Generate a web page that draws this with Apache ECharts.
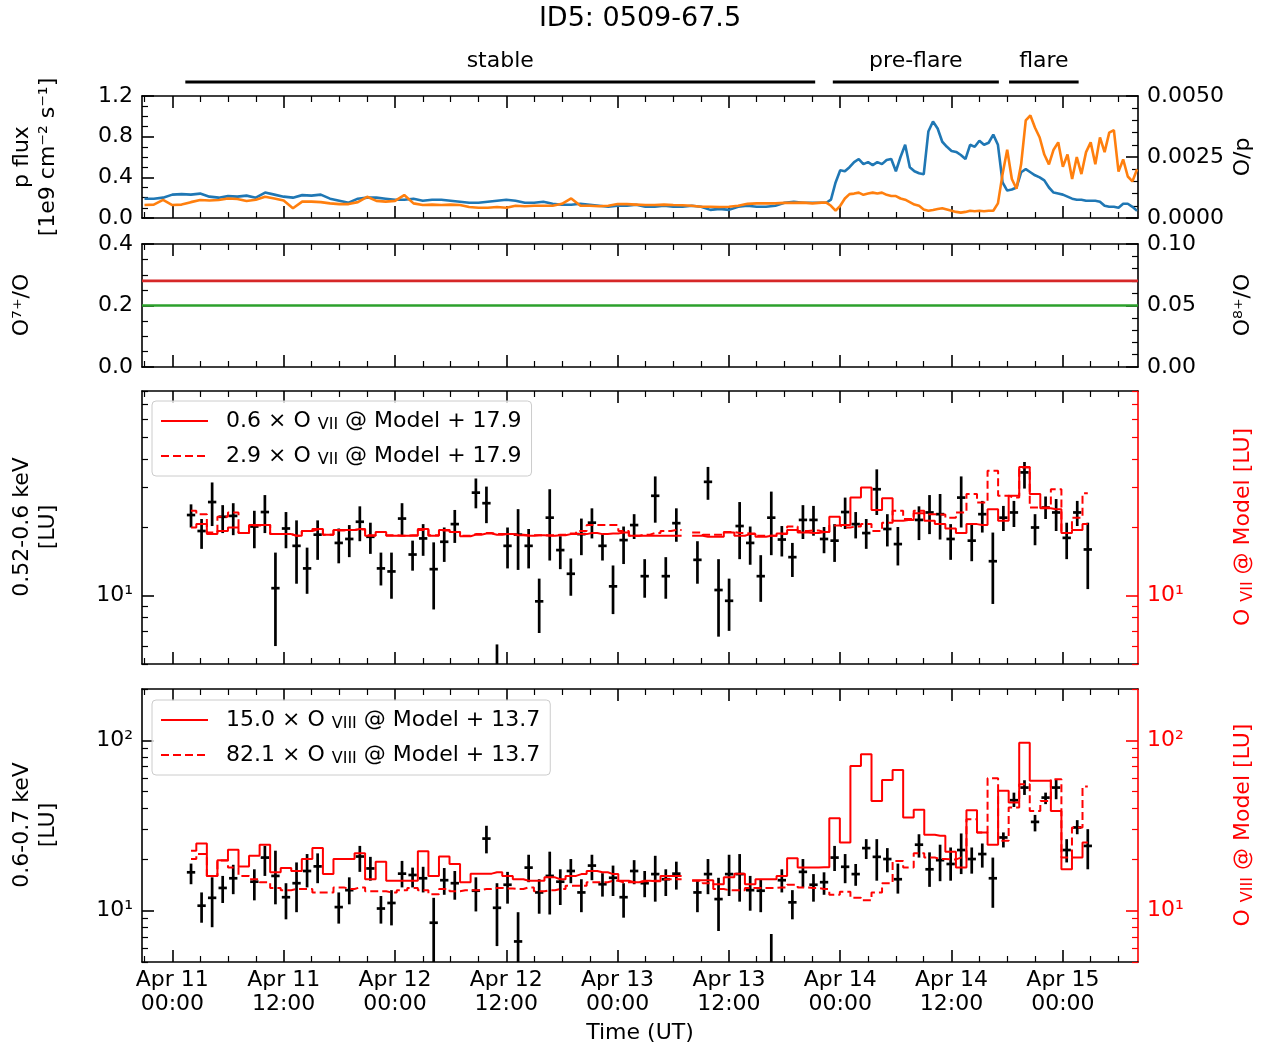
<!DOCTYPE html>
<html>
<head>
<meta charset="utf-8">
<title>ID5: 0509-67.5</title>
<script src="https://cdn.jsdelivr.net/npm/echarts@6/dist/echarts.min.js"></script>
<style>
html, body { margin: 0; padding: 0; background: #ffffff; }
#chart { width: 1269px; height: 1048px; }
</style>
</head>
<body>
<div id="chart"></div>
<script>
// time is hours since Apr 11 00:00 UT
var X0 = -3.27;
var X1 = 104.1;
var majorHours = [0, 12, 24, 36, 48, 60, 72, 84, 96];

/* proton flux and O/p: hourly from -3h to 69h, then every half hour up to 104h */
var pFlux = [0.19, 0.19, 0.20, 0.23,
    0.235, 0.23, 0.24, 0.21, 0.20, 0.215, 0.21, 0.22, 0.20, 0.25,
    0.23, 0.21, 0.20, 0.225, 0.22, 0.23, 0.19, 0.17, 0.15, 0.19,
    0.20, 0.20, 0.19, 0.18, 0.18, 0.19, 0.17, 0.18, 0.18, 0.17,
    0.16, 0.15, 0.15, 0.16, 0.17, 0.18, 0.17, 0.15, 0.15, 0.16,
    0.14, 0.13, 0.13, 0.14, 0.13, 0.12, 0.11, 0.12, 0.12, 0.13,
    0.11, 0.11, 0.12, 0.11, 0.11, 0.12, 0.11, 0.08, 0.09, 0.08,
    0.11, 0.12, 0.11, 0.11, 0.12, 0.15, 0.16, 0.15, 0.15,
    // half-hourly from 70h
    0.15, 0.15, 0.18, 0.35, 0.47, 0.46, 0.50, 0.55, 0.58, 0.53,
    0.55, 0.52, 0.55, 0.53, 0.57, 0.58, 0.46, 0.60, 0.72, 0.50,
    0.46, 0.44, 0.43, 0.85, 0.95, 0.88, 0.75, 0.70, 0.66, 0.65,
    0.62, 0.58, 0.72, 0.70, 0.76, 0.72, 0.74, 0.82, 0.72, 0.35,
    0.27, 0.28, 0.30, 0.45, 0.48, 0.45, 0.42, 0.40, 0.37, 0.30,
    0.25, 0.24, 0.23, 0.21, 0.19, 0.18, 0.18, 0.17, 0.17, 0.17,
    0.16, 0.12, 0.11, 0.11, 0.10, 0.14, 0.14, 0.11, 0.07];
var oRatio = [0.00053, 0.00055, 0.00074, 0.00053,
    0.00055, 0.00065, 0.00074, 0.00072, 0.00074, 0.0008, 0.00078, 0.0007, 0.00075, 0.00087,
    0.0008, 0.00072, 0.0004, 0.00067, 0.00067, 0.00065, 0.0006, 0.00057, 0.00057, 0.00065,
    0.00087, 0.0007, 0.00067, 0.0007, 0.00094, 0.0006, 0.00053, 0.00055, 0.00053, 0.00055,
    0.00053, 0.00045, 0.00042, 0.00042, 0.00045, 0.00042, 0.0005, 0.00048, 0.0005, 0.0005,
    0.0005, 0.00058, 0.0008, 0.0005, 0.0005, 0.00048, 0.0005, 0.00057, 0.00057, 0.00055,
    0.00053, 0.00053, 0.00055, 0.00053, 0.00052, 0.0005, 0.00046, 0.00046, 0.00045, 0.00046,
    0.0005, 0.00058, 0.0006, 0.0006, 0.0006, 0.00062, 0.00062, 0.00063, 0.0006,
    // half-hourly from 70h
    0.00063, 0.00063, 0.0005, 0.0003, 0.0005, 0.0008, 0.00098, 0.001, 0.00104, 0.00095,
    0.001, 0.00104, 0.001, 0.00104, 0.00095, 0.0009, 0.0009, 0.0008, 0.00075, 0.00065,
    0.00055, 0.0005, 0.00035, 0.0003, 0.00033, 0.00037, 0.0004, 0.00035, 0.0003, 0.00025,
    0.00022, 0.00025, 0.0003, 0.00028, 0.0003, 0.00028, 0.0003, 0.0003, 0.0006, 0.0018,
    0.0028, 0.0016, 0.0012, 0.0022, 0.0040, 0.0042, 0.0037, 0.0033, 0.0026, 0.0022,
    0.0028, 0.0031, 0.0021, 0.0026, 0.0016, 0.0025, 0.0018, 0.0027, 0.0031, 0.0022,
    0.0033, 0.0027, 0.0035, 0.0036, 0.0019, 0.0024, 0.0017, 0.0015, 0.0020];

/* charge state ratios */
var ratioTimes = [X0, X1];
var o7Ratio = [0.2, 0.2];
var o8Ratio = [0.07, 0.07];

/* phases */
var phaseNames = ['stable', 'pre-flare', 'flare'];
var phaseStart = [1.4, 71.2, 90.2];
var phaseEnd = [69.3, 89.1, 97.7];

/* light curve bins */
var binStart = 2.016;
var binStep = 1.1373;
var xHalf = 0.45;

var obs7 = [22.7, 19.3, 25.9, 22.3, 22.5, null, 20.2, 23.4, 10.8, 19.8,
    16.6, 13.2, 18.6, null, 17.1, 17.8, 21.2, 18.2, 13.2, 12.8,
    21.9, 15.2, 17.9, 13.1, 17.3, 20.7, null, 28.5, 25.6, 4.0,
    16.6, 18.6, 16.6, 9.45, 22.1, 15.9, 12.5, 18.7, 21.0, 16.6,
    11.0, 17.6, 20.5, 12.2, 27.6, 12.2, 20.9, null, 14.4, 31.8,
    10.6, 9.5, 20.3, 17.1, 12.2, 22.1, 17.7, 14.8, 21.6, 21.6,
    17.8, 17.5, 23.4, 20.7, 18.9, 29.5, 19.7, 16.9, null, 21.6,
    23.3, 22.9, 17.8, 27.1, 17.5, 22.9, 14.2, 22.1, 23.3, 35.0,
    20.0, 24.5, 23.3, 18.0, 23.3, 16.0];
var lo7 = [20.0, 16.1, 20.3, 18.9, 18.5, null, 16.2, 18.9, 6.0, 16.2,
    11.3, 10.2, 14.4, null, 13.9, 14.8, 17.4, 15.3, 11.1, 9.7,
    18.4, 12.9, 15.0, 8.7, 14.1, 17.1, null, 24.3, 20.9, 2.5,
    13.2, 13.0, 13.2, 6.85, 14.3, 13.1, 10.0, 15.1, 17.9, 14.3,
    8.3, 13.8, 17.8, 9.8, 21.0, 9.7, 17.3, null, 11.3, 26.5,
    6.6, 7.0, 14.5, 13.7, 9.4, 15.1, 14.9, 12.1, 17.8, 18.4,
    15.4, 14.1, 19.7, 17.9, 16.1, 22.7, 16.5, 13.6, null, 17.6,
    18.7, 17.7, 14.4, 20.0, 14.2, 19.0, 9.2, 19.3, 20.1, 29.7,
    16.7, 21.8, 19.3, 14.5, 20.3, 10.7];
var hi7 = [25.3, 21.8, 31.6, 25.1, 25.6, null, 23.7, 27.8, 15.5, 23.4,
    21.5, 16.3, 21.5, null, 19.8, 20.5, 24.8, 21.0, 15.5, 15.5,
    25.6, 17.5, 20.7, 17.2, 20.0, 23.9, null, 32.9, 30.3, 6.1,
    20.0, 24.1, 19.7, 11.9, 29.5, 18.3, 14.6, 21.9, 24.3, 18.7,
    13.6, 20.2, 22.9, 14.5, 33.6, 14.8, 24.3, null, 17.4, 37.0,
    14.5, 11.9, 25.9, 20.2, 15.1, 28.8, 20.3, 17.1, 25.1, 24.9,
    20.1, 20.7, 27.1, 23.4, 21.8, 36.1, 22.9, 20.1, null, 24.8,
    27.8, 28.1, 20.7, 33.6, 20.6, 26.2, 19.0, 24.9, 26.2, 38.9,
    22.9, 27.4, 26.7, 21.0, 26.2, 21.0];
var m7Solid = [20.0, 20.7, 18.7, 19.3, 20.0, 18.9, 20.5, 20.5, 18.7, 18.7,
    18.4, 19.3, 19.7, 18.6, 19.5, 19.5, 19.7, 18.4, 19.1, 18.4,
    18.4, 18.4, 19.7, 18.4, 19.5, 19.1, 18.3, 18.6, 18.8, 18.6,
    18.7, 18.5, 18.4, 18.5, 18.4, 18.5, 18.7, 18.7, 18.9, 18.7,
    18.8, 19.0, 18.4, 18.4, 18.4, 18.4, 18.4, null, 18.4, 18.2,
    18.2, 19.0, 18.4, 18.7, 18.2, 18.4, 18.8, 19.5, 19.0, 18.9,
    19.1, 22.3, 20.5, 27.1, 30.0, 23.9, 26.9, 21.4, 21.6, 23.1,
    21.4, 20.7, 19.8, 18.9, 20.7, 20.5, 24.1, 21.4, 27.6, 37.0,
    28.1, 24.3, 24.1, 18.9, 19.5, 20.7];
var m7Dash = [23.7, 22.9, 19.0, 22.3, 23.3, 18.9, 20.4, 20.5, 18.7, 18.7,
    18.4, 19.3, 19.6, 18.6, 19.4, 19.5, 19.6, 18.5, 19.1, 18.5,
    18.4, 18.5, 19.5, 18.5, 19.4, 19.1, 18.4, 18.7, 18.9, 18.7,
    18.7, 18.6, 18.5, 18.5, 18.5, 18.6, 18.8, 19.3, 20.5, 20.5,
    20.5, 19.3, 18.4, 18.6, 18.9, 19.3, 19.5, null, 19.0, 18.6,
    18.6, 19.1, 18.9, 18.8, 18.4, 18.4, 18.7, 20.2, 19.3, 19.4,
    19.1, 20.4, 20.0, 20.2, 20.7, 19.3, 21.0, 23.7, 21.8, 23.7,
    22.9, 22.8, 22.1, 23.3, 28.1, 25.8, 35.6, 27.6, 27.1, 36.8,
    24.5, 24.5, 29.5, 18.9, 22.1, 28.3];

var obs8 = [16.8, 10.7, 11.9, 13.6, 15.5, null, 14.8, 20.5, 16.0, 12.0,
    14.5, 17.1, 18.2, null, 10.5, 13.2, 20.8, 17.7, 10.3, 11.1,
    16.5, 16.2, 15.5, 8.5, 15.1, 14.5, null, 13.1, 26.5, 10.4,
    14.2, 6.6, 17.9, 12.8, 16.0, 14.8, 17.1, 12.8, 18.4, 14.3,
    15.6, 12.0, 17.1, 14.5, 16.4, 15.3, 16.5, null, 12.8, 16.4,
    11.7, 16.4, 16.4, 13.2, 13.1, 4.0, 15.1, 11.2, 16.9, 14.2,
    14.7, 20.5, 18.1, 16.4, 23.3, 20.7, 20.1, 15.3, null, 24.4,
    17.5, 19.8, 18.8, 22.7, 20.1, 21.5, 15.5, 26.9, 44.5, 52.8,
    33.2, 46.1, 52.8, 22.7, 30.8, 24.0];
var lo8 = [14.3, 8.5, 8.0, 11.1, 12.5, null, 11.5, 16.0, 10.9, 8.9,
    9.8, 13.7, 14.5, null, 8.4, 10.9, 16.9, 15.0, 8.4, 8.2,
    13.7, 13.7, 12.8, 4.8, 12.4, 11.6, null, 9.9, 21.7, 6.2,
    11.0, 4.5, 14.7, 9.6, 9.5, 10.8, 14.5, 9.8, 15.1, 12.1,
    12.2, 9.1, 14.3, 12.0, 11.3, 12.2, 13.3, null, 9.8, 12.5,
    7.6, 12.2, 11.3, 10.0, 9.8, 2.5, 12.8, 8.9, 13.7, 11.3,
    12.4, 17.1, 14.5, 14.0, 20.1, 15.0, 16.8, 12.6, null, 20.5,
    13.8, 14.9, 15.0, 16.4, 16.5, 17.9, 10.4, 23.5, 40.6, 47.8,
    29.2, 42.2, 45.1, 19.2, 28.1, 17.5];
var hi8 = [18.9, 12.8, 15.7, 16.0, 18.6, null, 17.5, 24.0, 22.5, 14.5,
    19.2, 21.5, 21.7, null, 12.8, 15.7, 24.0, 20.7, 12.2, 13.2,
    19.6, 17.9, 18.1, 11.9, 17.8, 17.1, null, 15.7, 31.5, 14.5,
    16.9, 9.8, 21.3, 15.3, 22.2, 17.5, 20.1, 15.3, 21.3, 16.6,
    18.4, 14.5, 19.8, 17.1, 21.0, 17.5, 19.4, null, 15.1, 20.1,
    15.6, 21.3, 21.5, 16.0, 15.3, 7.3, 17.5, 13.2, 20.1, 16.4,
    16.8, 24.0, 21.5, 18.8, 26.3, 26.3, 23.3, 18.9, null, 28.1,
    22.0, 24.4, 23.5, 28.4, 23.5, 24.8, 20.5, 28.8, 49.3, 58.3,
    36.5, 49.3, 59.1, 26.3, 34.0, 30.1];
var m8Solid = [22.5, 24.8, 16.0, 19.8, 22.8, 18.2, 21.0, 24.4, 16.8, 17.8,
    17.1, 20.1, 23.3, 16.4, 20.1, 20.1, 21.7, 15.3, 19.4, 15.0,
    15.0, 15.0, 22.3, 16.0, 20.8, 18.8, 14.7, 16.5, 16.5, 16.8,
    16.0, 15.3, 15.0, 15.0, 15.7, 15.3, 16.0, 16.4, 17.1, 16.8,
    16.4, 15.0, 14.7, 15.0, 14.9, 16.0, 16.0, null, 15.1, 15.1,
    14.3, 15.7, 16.5, 14.3, 15.3, 15.3, 16.0, 20.3, 17.9, 17.9,
    18.0, 34.9, 25.1, 70.7, 82.8, 44.1, 58.5, 67.0, 35.2, 39.1,
    27.9, 27.5, 22.2, 17.9, 38.9, 28.8, 24.4, 50.5, 43.1, 96.8,
    57.8, 57.8, 38.5, 17.5, 20.5, 25.1];
var m8Dash = [20.1, 21.5, 16.0, 19.7, 17.9, 16.0, 15.3, 14.7, 13.6, 13.2,
    13.4, 13.4, 12.8, 12.8, 13.7, 13.4, 13.7, 13.0, 13.0, 12.8,
    13.2, 13.6, 13.2, 12.5, 13.4, 13.0, 13.2, 13.2, 13.4, 13.6,
    13.5, 13.4, 13.7, 13.0, 13.2, 13.4, 14.0, 14.0, 14.7, 14.7,
    15.0, 14.7, 14.7, 14.9, 15.0, 15.3, 15.3, null, 15.0, 14.5,
    13.4, 13.2, 13.2, 13.6, 13.6, 13.6, 13.7, 14.2, 13.7, 13.6,
    13.4, 12.4, 12.9, 11.9, 11.5, 12.8, 14.5, 19.6, 17.9, 21.7,
    20.5, 20.1, 20.0, 20.5, 34.4, 28.8, 59.9, 25.7, 40.3, 55.2,
    38.5, 44.1, 59.1, 20.5, 30.8, 53.5];

var m7Names = ['0.6 × O VII @ Model + 17.9', '2.9 × O VII @ Model + 17.9'];
var m8Names = ['15.0 × O VIII @ Model + 13.7', '82.1 × O VIII @ Model + 13.7'];
var m7Rich = ['{p|0.6 × O }{s|VII}{a| @ Model + 17.9}', '{p|2.9 × O }{s|VII}{a| @ Model + 17.9}'];
var m8Rich = ['{p|15.0 × O }{s|VIII}{a| @ Model + 13.7}', '{p|82.1 × O }{s|VIII}{a| @ Model + 13.7}'];

var FONT = 'DejaVu Sans';
var FS = 22;
var blk = '#000000';
var modelRed = '#ff0000';

var pTimes = [];
for (var h = -3; h <= 69; h++) {
    pTimes.push(h);
}
for (var hh = 70; hh <= 104; hh += 0.5) {
    pTimes.push(hh);
}
var minorHours = [];
for (var m = -3; m <= 102; m += 3) {
    if (m % 12 !== 0) minorHours.push(m);
}
var binTimes = [];
for (var k = 0; k < obs7.length; k++) {
    binTimes.push(binStart + k * binStep);
}

function zip(xs, ys) {
    var out = [];
    for (var i = 0; i < xs.length; i++) out.push([xs[i], ys[i]]);
    return out;
}

function timeLabel(v) {
    var day = 11 + Math.floor(v / 24);
    var hr = Math.round(v - Math.floor(v / 24) * 24);
    return 'Apr ' + day + '\n' + (hr === 0 ? '00:00' : '12:00');
}

function makeXAxes(g, withLabels) {
    var list = [];
    var pos = ['bottom', 'top'];
    for (var i = 0; i < 2; i++) {
        list.push({
            type: 'value', gridIndex: g, position: pos[i], min: X0, max: X1,
            axisLine: { show: true, onZero: false, lineStyle: { color: blk, width: 1.6 } },
            axisTick: { show: true, inside: true, length: 12, customValues: majorHours, lineStyle: { color: blk, width: 1.6 } },
            axisLabel: {
                show: withLabels && i === 0, customValues: majorHours, formatter: timeLabel,
                fontFamily: FONT, fontSize: FS, color: blk, lineHeight: 24, margin: 6
            },
            splitLine: { show: false }
        });
        list.push({
            type: 'value', gridIndex: g, position: pos[i], min: X0, max: X1,
            axisLine: { show: false, onZero: false },
            axisTick: { show: true, inside: true, length: 6, customValues: minorHours, lineStyle: { color: blk, width: 1.2 } },
            axisLabel: { show: false },
            splitLine: { show: false }
        });
    }
    return list;
}

function valueAxis(g, pos, mx, step, nMinor, digits) {
    return {
        type: 'value', gridIndex: g, position: pos, min: 0, max: mx, interval: step,
        axisLine: { show: true, onZero: false, lineStyle: { color: blk, width: 1.6 } },
        axisTick: { show: true, inside: true, length: 12, lineStyle: { color: blk, width: 1.6 } },
        minorTick: { show: true, splitNumber: nMinor, length: 6, lineStyle: { color: blk, width: 1.2 } },
        axisLabel: {
            formatter: function (v) { return v.toFixed(digits); },
            fontFamily: FONT, fontSize: FS, color: blk, margin: 9
        },
        splitLine: { show: false }
    };
}

function logAxes(g, pos, mx, majors, minors, color) {
    var major = {
        type: 'log', logBase: 10, gridIndex: g, position: pos, min: 5, max: mx,
        axisLine: { show: true, onZero: false, lineStyle: { color: color, width: 1.6 } },
        axisTick: { show: true, inside: true, length: 12, customValues: majors, lineStyle: { color: color, width: 1.6 } },
        axisLabel: {
            customValues: majors,
            formatter: function (v) { return Math.round(Math.log(v) / Math.LN10) === 2 ? '10²' : '10¹'; },
            fontFamily: FONT, fontSize: FS, color: color, margin: 9
        },
        minorTick: { show: false },
        splitLine: { show: false }
    };
    var minor = {
        type: 'log', logBase: 10, gridIndex: g, position: pos, min: 5, max: mx,
        axisLine: { show: false, onZero: false },
        axisTick: { show: true, inside: true, length: 6, customValues: minors, lineStyle: { color: color, width: 1.2 } },
        axisLabel: { show: false },
        splitLine: { show: false }
    };
    return [major, minor];
}

function errBarSeries(xi, yi, obs, lo, hi) {
    var data = [];
    for (var i = 0; i < binTimes.length; i++) {
        if (obs[i] === null) continue;
        data.push([binTimes[i], obs[i], lo[i], hi[i]]);
    }
    return {
        type: 'custom', xAxisIndex: xi, yAxisIndex: yi, clip: true, silent: true,
        encode: { x: 0, y: 1 },
        data: data,
        renderItem: function (params, api) {
            var t = api.value(0);
            var v = api.value(1);
            var bot = api.coord([t, api.value(2)]);
            var top = api.coord([t, api.value(3)]);
            var l = api.coord([t - xHalf, v]);
            var r = api.coord([t + xHalf, v]);
            var st = { stroke: blk, lineWidth: 2.7 };
            return {
                type: 'group', children: [
                    { type: 'line', shape: { x1: bot[0], y1: bot[1], x2: top[0], y2: top[1] }, style: st },
                    { type: 'line', shape: { x1: l[0], y1: l[1], x2: r[0], y2: r[1] }, style: st }
                ]
            };
        }
    };
}

function stepSeries(name, xi, yi, vals, dashed) {
    var data = [];
    for (var i = 0; i < binTimes.length; i++) {
        data.push([binTimes[i], vals[i] === null ? '-' : vals[i]]);
    }
    return {
        name: name, type: 'line', step: 'middle', xAxisIndex: xi, yAxisIndex: yi,
        data: data, symbol: 'none', showSymbol: false, connectNulls: false, silent: true,
        lineStyle: { color: modelRed, width: 2, type: dashed ? [8, 4] : 'solid' },
        itemStyle: { color: modelRed }
    };
}

function plainLine(xi, yi, data, color) {
    return {
        type: 'line', xAxisIndex: xi, yAxisIndex: yi, data: data,
        symbol: 'none', showSymbol: false, silent: true,
        lineStyle: { color: color, width: 2.6 }, itemStyle: { color: color }
    };
}

function legendFor(names, richList, top) {
    return {
        data: names, left: 152, top: top, orient: 'vertical',
        padding: [9, 10, 8, 8], itemGap: 12, itemWidth: 47, itemHeight: 14,
        backgroundColor: 'rgba(255,255,255,0.8)', borderColor: '#cccccc', borderWidth: 1, borderRadius: 4,
        selectedMode: false,
        itemStyle: { opacity: 0, borderWidth: 0 },
        formatter: function (name) { return richList[names.indexOf(name)]; },
        textStyle: {
            rich: {
                p: { fontFamily: FONT, fontSize: FS, color: blk, lineHeight: 24, padding: [0, 0, 0, 13] },
                a: { fontFamily: FONT, fontSize: FS, color: blk, lineHeight: 24 },
                s: { fontFamily: FONT, fontSize: 16, color: blk, lineHeight: 15, verticalAlign: 'bottom' }
            }
        }
    };
}

function rotText(x, y, text, color) {
    return {
        type: 'text', x: x, y: y, rotation: Math.PI / 2, silent: true,
        style: {
            text: text, fontFamily: FONT, fontSize: FS, lineHeight: 26, fill: color,
            align: 'center', verticalAlign: 'middle'
        }
    };
}

function rotRich(x, y, text, color) {
    return {
        type: 'text', x: x, y: y, rotation: Math.PI / 2, silent: true,
        style: {
            text: text, align: 'center', verticalAlign: 'middle',
            rich: {
                a: { fontFamily: FONT, fontSize: FS, fill: color, color: color, lineHeight: 26 },
                s: { fontFamily: FONT, fontSize: 16, fill: color, color: color, lineHeight: 15, verticalAlign: 'bottom' }
            }
        }
    };
}

var chart = echarts.init(document.getElementById('chart'), null, { renderer: 'canvas' });

var xAxes = [].concat(makeXAxes(0, false), makeXAxes(1, false), makeXAxes(2, false), makeXAxes(3, true));
xAxes.push({ type: 'value', gridIndex: 4, min: X0, max: X1, show: false });

var yAxes = [
    valueAxis(0, 'left', 1.2, 0.4, 4, 1),
    valueAxis(0, 'right', 0.005, 0.0025, 5, 4),
    valueAxis(1, 'left', 0.4, 0.2, 4, 1),
    valueAxis(1, 'right', 0.1, 0.05, 5, 2)
];
yAxes = yAxes.concat(
    logAxes(2, 'left', 80, [10], [5, 6, 7, 8, 9, 20, 30, 40, 50, 60, 70, 80], blk),
    logAxes(2, 'right', 80, [10], [5, 6, 7, 8, 9, 20, 30, 40, 50, 60, 70, 80], modelRed),
    logAxes(3, 'left', 200, [10, 100], [5, 6, 7, 8, 9, 20, 30, 40, 50, 60, 70, 80, 90, 200], blk),
    logAxes(3, 'right', 200, [10, 100], [5, 6, 7, 8, 9, 20, 30, 40, 50, 60, 70, 80, 90, 200], modelRed)
);
yAxes.push({ type: 'value', gridIndex: 4, min: 0, max: 1, show: false });

var phaseData = [];
for (var p = 0; p < phaseNames.length; p++) phaseData.push([phaseStart[p], phaseEnd[p]]);

var option = {
    animation: false,
    backgroundColor: '#ffffff',
    grid: [
        { left: 142, right: 131, top: 96, height: 122, outerBoundsMode: 'none' },
        { left: 142, right: 131, top: 244, height: 123, outerBoundsMode: 'none' },
        { left: 142, right: 131, top: 391, height: 273, outerBoundsMode: 'none' },
        { left: 142, right: 131, top: 689, height: 273, outerBoundsMode: 'none' },
        { left: 142, right: 131, top: 40, height: 50, outerBoundsMode: 'none' }
    ],
    xAxis: xAxes,
    yAxis: yAxes,
    legend: [
        legendFor(m7Names, m7Rich, 401),
        legendFor(m8Names, m8Rich, 700)
    ],
    graphic: [
        { type: 'text', x: 640, y: 19, silent: true, style: { text: 'ID5: 0509-67.5', fontFamily: FONT, fontSize: 27, fill: blk, align: 'center', verticalAlign: 'middle' } },
        { type: 'text', x: 640, y: 1033, silent: true, style: { text: 'Time (UT)', fontFamily: FONT, fontSize: FS, fill: blk, align: 'center', verticalAlign: 'middle' } },
        rotText(35, 157, 'p flux\n[1e9 cm⁻² s⁻¹]', blk),
        rotText(22, 305, 'O⁷⁺/O', blk),
        rotText(35, 527, '0.52-0.6 keV\n[LU]', blk),
        rotText(35, 825, '0.6-0.7 keV\n[LU]', blk),
        rotText(1243, 157, 'O/p', blk),
        rotText(1243, 305, 'O⁸⁺/O', blk),
        rotRich(1243, 527, '{a|O }{s|VII}{a| @ Model [LU]}', modelRed),
        rotRich(1243, 825, '{a|O }{s|VIII}{a| @ Model [LU]}', modelRed)
    ],
    series: [
        plainLine(0, 0, zip(pTimes, pFlux), '#1f77b4'),
        plainLine(0, 1, zip(pTimes, oRatio), '#ff7f0e'),
        plainLine(4, 2, zip(ratioTimes, o7Ratio), '#2ca02c'),
        plainLine(4, 3, zip(ratioTimes, o8Ratio), '#d62728'),
        errBarSeries(8, 4, obs7, lo7, hi7),
        stepSeries(m7Names[0], 8, 6, m7Solid, false),
        stepSeries(m7Names[1], 8, 6, m7Dash, true),
        errBarSeries(12, 8, obs8, lo8, hi8),
        stepSeries(m8Names[0], 12, 10, m8Solid, false),
        stepSeries(m8Names[1], 12, 10, m8Dash, true),
        {
            type: 'custom', xAxisIndex: 16, yAxisIndex: 12, silent: true,
            encode: { x: [0, 1] },
            data: phaseData,
            renderItem: function (params, api) {
                var s = api.value(0);
                var e = api.value(1);
                var a = api.coord([s, 0.16]);
                var b = api.coord([e, 0.16]);
                var mid = api.coord([(s + e) / 2, 0.58]);
                return {
                    type: 'group', children: [
                        { type: 'line', shape: { x1: a[0], y1: a[1], x2: b[0], y2: b[1] }, style: { stroke: blk, lineWidth: 3 } },
                        { type: 'text', x: mid[0], y: mid[1], style: { text: phaseNames[params.dataIndex], fontFamily: FONT, fontSize: FS, fill: blk, align: 'center', verticalAlign: 'middle' } }
                    ]
                };
            }
        }
    ]
};

chart.setOption(option);
</script>
</body>
</html>
